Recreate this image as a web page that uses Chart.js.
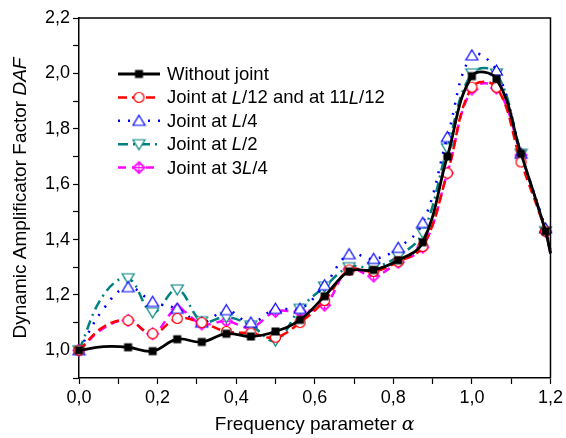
<!DOCTYPE html>
<html>
<head>
<meta charset="utf-8">
<script src="https://cdn.jsdelivr.net/npm/chart.js@4.4.1/dist/chart.umd.min.js"></script>
<style>
  html, body { margin: 0; padding: 0; background: #fff; }
  #wrap { width: 566px; height: 438px; }
</style>
</head>
<body>
<div id="wrap"><canvas id="myChartDAF" width="566" height="438"></canvas></div>
<script>
// Frequency parameter alpha (points of the curves)
var alphaValues = [0, 0.0625, 0.125, 0.1875, 0.25, 0.3125, 0.375, 0.4375, 0.5, 0.5625, 0.625, 0.6875,
                   0.75, 0.8125, 0.875, 0.9375, 1.0, 1.0625, 1.125, 1.1875, 1.2];
// points drawn without a marker
var noMarkerAlpha = [0.0625, 1.2];

var dafWithoutJoint = [1.00, 1.013, 1.011, 0.997, 1.04, 1.03, 1.06, 1.05, 1.068, 1.11, 1.195, 1.285,
                       1.29, 1.325, 1.39, 1.70, 1.99, 1.98, 1.71, 1.43, 1.35];
var dafJointL12 = [1.00, 1.085, 1.108, 1.06, 1.115, 1.10, 1.068, 1.062, 1.047, 1.10, 1.18, 1.29,
                   1.285, 1.32, 1.375, 1.64, 1.95, 1.95, 1.68, 1.43, 1.35];
var dafJointL4 = [1.00, 1.15, 1.228, 1.175, 1.15, 1.10, 1.145, 1.10, 1.15, 1.15, 1.235, 1.347,
                  1.33, 1.37, 1.46, 1.77, 2.065, 2.01, 1.71, 1.44, 1.36];
var dafJointL2 = [1.00, 1.20, 1.26, 1.137, 1.22, 1.105, 1.12, 1.09, 1.035, 1.15, 1.23, 1.30,
                  1.30, 1.34, 1.425, 1.73, 2.00, 2.00, 1.71, 1.43, 1.36];
var dafJoint3L4 = [1.00, 1.08, 1.108, 1.06, 1.148, 1.095, 1.105, 1.083, 1.14, 1.14, 1.163, 1.293,
                   1.268, 1.318, 1.372, 1.64, 1.943, 1.947, 1.705, 1.43, 1.35];

var seriesNames = ['Without joint', 'Joint at L/12 and at 11L/12', 'Joint at L/4', 'Joint at L/2', 'Joint at 3L/4'];
var seriesValues = [dafWithoutJoint, dafJointL12, dafJointL4, dafJointL2, dafJoint3L4];

var xTitle = 'Frequency parameter ';
var xTitleSymbol = '\u03b1';
var yTitle = 'Dynamic Amplificator Factor ';
var yTitleSymbol = 'DAF';

var FONT = '"Liberation Sans", Arial, sans-serif';

// estilos de cada serie
var styles = [
    { color: '#000000', dash: [], width: 2.8, marker: 'square' },
    { color: '#ff0000', dash: [9, 5], width: 2.5, marker: 'circle' },
    { color: '#0000ff', dash: [2, 8], width: 2.5, marker: 'triangle' },
    { color: '#008080', dash: [10, 5, 2, 5], width: 2.5, marker: 'triangleDown' },
    { color: '#ff00ff', dash: [8, 6], width: 2.5, marker: 'diamondCross' }
];

function makeMarker(kind, color) {
    var c = document.createElement('canvas');
    c.width = 15; c.height = 15;
    var g = c.getContext('2d');
    var m = 7.5;
    g.strokeStyle = color;
    g.fillStyle = color;
    g.lineWidth = 1.2;
    g.beginPath();
    if (kind === 'square') {
        g.fillRect(m - 4, m - 4, 8, 8);
        return c;
    } else if (kind === 'circle') {
        g.arc(m, m, 5, 0, Math.PI * 2);
        g.fillStyle = '#fff'; g.fill();
    } else if (kind === 'triangle') {
        g.moveTo(m, m - 5.5); g.lineTo(m + 6, m + 4.5); g.lineTo(m - 6, m + 4.5); g.closePath();
        g.fillStyle = '#fff'; g.fill();
    } else if (kind === 'triangleDown') {
        g.moveTo(m, m + 5.5); g.lineTo(m + 6, m - 4.5); g.lineTo(m - 6, m - 4.5); g.closePath();
        g.fillStyle = '#fff'; g.fill();
    } else if (kind === 'diamondCross') {
        g.moveTo(m, m - 6); g.lineTo(m + 6, m); g.lineTo(m, m + 6); g.lineTo(m - 6, m); g.closePath();
        g.fillStyle = '#fff'; g.fill();
        g.stroke();
        g.beginPath();
        g.arc(m, m, 3.6, 0, Math.PI * 2);
        g.moveTo(m, m - 6); g.lineTo(m, m + 6);
        g.moveTo(m - 6, m); g.lineTo(m + 6, m);
    }
    g.stroke();
    return c;
}

var markers = styles.map(function (s) { return makeMarker(s.marker, s.color); });

var datasets = seriesValues.map(function (vals, i) {
    return {
        label: seriesNames[i],
        data: alphaValues.map(function (a, k) { return { x: a, y: vals[k] }; }),
        borderColor: styles[i].color,
        backgroundColor: styles[i].color,
        borderWidth: styles[i].width,
        borderDash: styles[i].dash,
        pointStyle: markers[i],
        pointRadius: function (ctx) {
            return noMarkerAlpha.indexOf(alphaValues[ctx.dataIndex]) >= 0 ? 0 : 6;
        },
        tension: 0.4,
        fill: false,
        clip: false
    };
});

function fmt(v) {
    return v.toFixed(1).replace('.', ',');
}

// texto con partes en cursiva
function drawRich(g, parts, x, y, size) {
    var cx = x;
    parts.forEach(function (p) {
        g.font = (p[1] ? 'italic ' : '') + size + 'px ' + (p[2] || FONT);
        g.fillText(p[0], cx, y);
        cx += g.measureText(p[0]).width;
    });
    return cx - x;
}
function richWidth(g, parts, size) {
    var w = 0;
    parts.forEach(function (p) {
        g.font = (p[1] ? 'italic ' : '') + size + 'px ' + (p[2] || FONT);
        w += g.measureText(p[0]).width;
    });
    return w;
}
function labelParts(txt) {
    var out = [];
    txt.split('L').forEach(function (s, i) {
        if (i > 0) out.push(['L', true]);
        if (s) out.push([s, false]);
    });
    return out;
}

var decorPlugin = {
    id: 'decor',
    afterDraw: function (chart) {
        var g = chart.ctx;
        var a = chart.chartArea;
        g.save();
        // marco superior y derecho
        g.strokeStyle = '#000';
        g.lineWidth = 1.5;
        g.beginPath();
        g.moveTo(a.left, a.top); g.lineTo(a.right, a.top); g.lineTo(a.right, a.bottom);
        g.stroke();

        g.fillStyle = '#000';
        g.textBaseline = 'middle';
        // titulo eje x
        var xp = [[xTitle, false], [xTitleSymbol, true, '"DejaVu Serif", "Liberation Serif", serif']];
        var w = richWidth(g, xp, 19);
        drawRich(g, xp, (a.left + a.right) / 2 - w / 2, 425, 19);
        // titulo eje y
        g.save();
        g.translate(21, (a.top + a.bottom) / 2);
        g.rotate(-Math.PI / 2);
        var yp = [[yTitle, false], [yTitleSymbol, true]];
        w = richWidth(g, yp, 19);
        drawRich(g, yp, -w / 2, 0, 19);
        g.restore();

        // leyenda
        chart.data.datasets.forEach(function (ds, i) {
            var y = 74 + i * 23.4;
            g.save();
            g.strokeStyle = styles[i].color;
            g.lineWidth = styles[i].width;
            g.setLineDash(styles[i].dash);
            g.beginPath();
            g.moveTo(118, y); g.lineTo(160, y);
            g.stroke();
            g.restore();
            g.drawImage(markers[i], 139 - 7.5, y - 7.5);
            g.fillStyle = '#000';
            drawRich(g, labelParts(ds.label), 167, y + 1, 18.5);
        });
        g.restore();
    }
};

var ctx = document.getElementById('myChartDAF').getContext('2d');
window.myChart = new Chart(ctx, {
    type: 'line',
    data: { datasets: datasets },
    options: {
        responsive: false,
        animation: false,
        devicePixelRatio: 1,
        layout: { padding: { left: 0, right: 13, top: 18, bottom: 0 } },
        plugins: { legend: { display: false }, tooltip: { enabled: false } },
        scales: {
            x: {
                type: 'linear',
                min: 0,
                max: 1.2,
                afterFit: function (scale) { scale.height = 60; },
                grid: { drawOnChartArea: false, tickLength: 6, color: '#000', tickWidth: 1.2 },
                border: { color: '#000', width: 1.5 },
                ticks: {
                    stepSize: 0.1,
                    autoSkip: false,
                    maxRotation: 0,
                    color: '#000',
                    padding: 3,
                    font: { size: 18, family: FONT },
                    callback: function (v) {
                        return Math.round(v * 10) % 2 === 0 ? fmt(v) : '';
                    }
                }
            },
            y: {
                min: 0.9,
                max: 2.2,
                afterFit: function (scale) { scale.width = 79; },
                grid: { drawOnChartArea: false, tickLength: 6, color: '#000', tickWidth: 1.2 },
                border: { color: '#000', width: 1.5 },
                ticks: {
                    stepSize: 0.1,
                    autoSkip: false,
                    color: '#000',
                    padding: 3,
                    font: { size: 18, family: FONT },
                    callback: function (v) {
                        return Math.round(v * 10) % 2 === 0 ? fmt(v) : '';
                    }
                }
            }
        }
    },
    plugins: [decorPlugin]
});
</script>
</body>
</html>
